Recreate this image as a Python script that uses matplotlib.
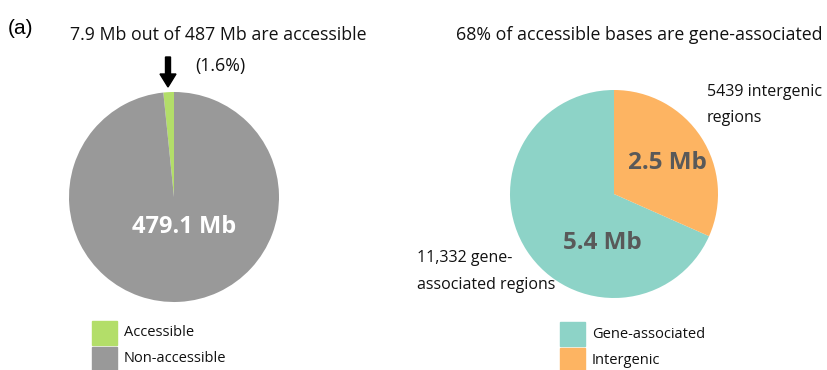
import matplotlib.pyplot as plt
from matplotlib.patches import FancyArrow, Rectangle

plt.rcParams['font.family'] = ['Open Sans', 'DejaVu Sans']

# accessible vs non-accessible genome (Mb)
genome_labels = ['Accessible', 'Non-accessible']
genome_mb = [7.9, 479.1]
genome_colors = ['#b3de69', '#999999']

# accessible bases split by region type (Mb)
region_labels = ['Gene-associated', 'Intergenic']
region_mb = [5.4, 2.5]
region_colors = ['#8dd3c7', '#fdb462']

W, H = 828, 370
fig = plt.figure(figsize=(W / 100, H / 100), dpi=100)


def px_axes(cx, cy, r):
    # axes box in pixel units, y measured from the top
    return fig.add_axes([(cx - r) / W, (H - cy - r) / H, 2 * r / W, 2 * r / H])


def key(x, y, labels, colors):
    # square swatches stacked under a pie, pixel units from the top-left
    for i, (lab, col) in enumerate(zip(labels, colors)):
        top = y + i * 26
        fig.patches.append(Rectangle((x / W, 1 - (top + 24) / H), 25 / W, 24 / H,
                                     color=col, transform=fig.transFigure,
                                     figure=fig))
        fig.text((x + 32) / W, 1 - (top + 12) / H, lab, fontsize=10.5,
                 ha='left', va='center', color='#111111')


# left pie
ax1 = px_axes(174, 197, 105)
w1, _ = ax1.pie(genome_mb, colors=genome_colors, startangle=90, counterclock=True,
                wedgeprops=dict(linewidth=0))
ax1.set_xlim(-1, 1)
ax1.set_ylim(-1, 1)
ax1.set_aspect('equal')
ax1.text(0.10, -0.29, f'{genome_mb[1]} Mb', color='white', fontsize=17,
         fontweight='bold', ha='center', va='center')

# right pie
ax2 = px_axes(614, 194, 104)
w2, _ = ax2.pie(region_mb, colors=region_colors, startangle=90, counterclock=True,
                wedgeprops=dict(linewidth=0))
ax2.set_xlim(-1, 1)
ax2.set_ylim(-1, 1)
ax2.set_aspect('equal')
ax2.text(0.51, 0.30, f'{region_mb[1]} Mb', color='#595959', fontsize=17.5,
         fontweight='bold', ha='center', va='center')
ax2.text(-0.11, -0.47, f'{region_mb[0]} Mb', color='#595959', fontsize=17.5,
         fontweight='bold', ha='center', va='center')

# headings and annotations
txt = dict(color='#111111', va='center')
fig.text(8 / W, 1 - 29 / H, '(a)', family='Liberation Sans', fontsize=15,
         ha='left', va='center')
fig.text(218 / W, 1 - 35 / H, '7.9 Mb out of 487 Mb are accessible', fontsize=12.8,
         ha='center', **txt)
fig.text(220 / W, 1 - 66 / H, '(1.6%)', fontsize=12.8, ha='center', **txt)
fig.text(639 / W, 1 - 35 / H, '68% of accessible bases are gene-associated',
         fontsize=12.8, ha='center', **txt)
fig.text(707 / W, 1 - 92 / H, '5439 intergenic', fontsize=11.5, ha='left', **txt)
fig.text(707 / W, 1 - 118 / H, 'regions', fontsize=11.5, ha='left', **txt)
fig.text(417 / W, 1 - 258 / H, '11,332 gene-', fontsize=11.5, ha='left', **txt)
fig.text(417 / W, 1 - 285 / H, 'associated regions', fontsize=11.5, ha='left', **txt)

# arrow pointing at the accessible slice
fig.patches.append(FancyArrow(168 / W, 1 - 57 / H, 0, -30 / H, width=5 / W,
                              head_width=16 / W, head_length=13 / H,
                              length_includes_head=True, color='black',
                              transform=fig.transFigure, figure=fig))

# keys
key(92, 321, genome_labels, genome_colors)
key(560, 322, region_labels, region_colors)

fig.savefig('out.png', dpi=100)
